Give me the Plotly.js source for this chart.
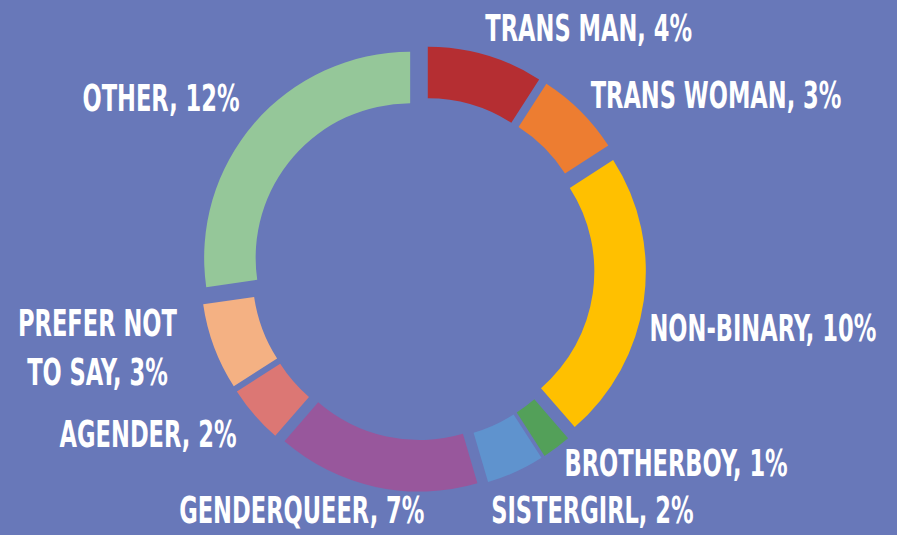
<!DOCTYPE html>
<html>
<head>
<meta charset="utf-8">
<script src="https://cdn.plot.ly/plotly-3.0.1.min.js"></script>
<style>
html,body{margin:0;padding:0;background:#6878B9;}
#chart{width:897px;height:535px;}
</style>
</head>
<body>
<div id="chart"></div>
<script>
// Data
const categories = ["Trans man", "Trans woman", "Non-binary", "Brotherboy", "Sistergirl", "Genderqueer", "Agender", "Prefer not to say", "Other"];
const displayLabels = ["TRANS MAN", "TRANS WOMAN", "NON-BINARY", "BROTHERBOY", "SISTERGIRL", "GENDERQUEER", "AGENDER", "PREFER NOT<br>TO SAY", "OTHER"];
const values = [4, 3, 10, 1, 2, 7, 2, 3, 12];
const colors = ["#B52E32", "#ED7D31", "#FFC000", "#53A059", "#5F93CE", "#98579C", "#DC7774", "#F4B183", "#95C799"];

// label placement (pixel centres in the 897x535 frame)
const labelPos = [[588, 28], [716, 95], [763, 328], [676, 463], [592, 510], [302, 510], [148, 434], [97, 347], [161, 98]];

const W = 897, H = 535;
const bg = "#6878B9";
const textSqueeze = 0.66;

const trace = {
  type: "pie",
  labels: categories,
  values: values,
  sort: false,
  direction: "clockwise",
  rotation: 0,
  hole: 0.75,
  pull: values.map(() => 0.0825),
  marker: {colors: colors, line: {width: 0}},
  textinfo: "none",
  hoverinfo: "label+value",
  showlegend: false,
  domain: {x: [200 / W, 646 / W], y: [(H - 492) / H, (H - 46) / H]}
};

const annotations = displayLabels.map((t, i) => ({
  text: t + ", " + values[i] + "%",
  xref: "paper", yref: "paper",
  x: labelPos[i][0] / W,
  y: 1 - labelPos[i][1] / H,
  xanchor: "center", yanchor: "middle",
  showarrow: false,
  align: "center",
  font: {family: "'DejaVu Sans Condensed', 'DejaVu Sans', sans-serif", size: 38, color: "#FFFFFF", weight: "bold"}
}));

const layout = {
  width: W, height: H,
  margin: {l: 0, r: 0, t: 0, b: 0},
  paper_bgcolor: bg,
  plot_bgcolor: bg,
  showlegend: false,
  annotations: annotations
};

Plotly.newPlot("chart", [trace], layout, {displayModeBar: false, staticPlot: true}).then(() => {
  document.querySelectorAll("#chart text.annotation-text").forEach(el => {
    const b = el.getBBox();
    const cx = b.x + b.width / 2;
    el.setAttribute("transform", "translate(" + cx + ",0) scale(" + textSqueeze + ",1) translate(" + (-cx) + ",0)");
  });
});
</script>
</body>
</html>
